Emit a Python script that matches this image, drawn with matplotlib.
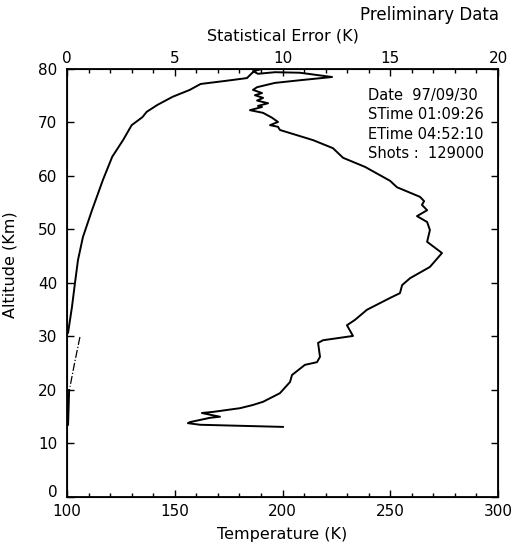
import numpy as np
import matplotlib.pyplot as plt

plt.rcParams['font.family'] = ['DejaVu Sans']

# temperature profile (K) vs altitude (km)
temp = [190.5, 186.3, 188.6, 196.5, 208.1, 223.0, 208.1, 196.5, 188.2, 186.3,
        190.5, 187.2, 191.0, 188.2, 193.3, 188.6, 190.5, 184.9, 188.6, 191.0,
        195.1, 197.9, 194.2, 197.9, 198.8, 214.2, 223.4, 228.1, 238.3, 249.9,
        253.1, 263.8, 265.7, 264.7, 267.1, 262.4, 267.1, 268.4, 267.1, 274.0,
        268.4, 259.2, 255.5, 254.5, 249.9, 239.2, 233.6, 229.9, 232.7, 218.8,
        216.5, 217.4, 216.0, 210.4, 204.4, 203.5, 198.8, 191.0, 186.3, 180.3,
        167.7, 162.6, 167.3, 171.0, 166.4, 157.1, 156.1, 161.7, 200.2]
temp_alt = [80.0, 79.6, 79.1, 79.4, 79.3, 78.5, 77.9, 77.4, 76.6, 76.1,
            75.5, 75.1, 74.6, 74.1, 73.6, 73.1, 72.9, 72.3, 72.0, 71.8,
            70.9, 70.1, 69.5, 69.2, 68.6, 66.7, 65.2, 63.4, 61.7, 59.1,
            57.9, 56.1, 55.3, 54.6, 53.6, 52.5, 51.4, 49.9, 47.7, 45.6,
            43.0, 40.9, 39.6, 38.1, 37.2, 35.0, 33.1, 32.1, 30.1, 29.3,
            28.8, 26.2, 25.2, 24.7, 22.8, 21.5, 19.4, 17.8, 17.2, 16.6,
            15.9, 15.7, 15.3, 15.0, 14.8, 14.0, 13.8, 13.5, 13.1]

# statistical error (K) vs altitude (km)
err = [8.8, 8.6, 8.35, 7.4, 6.2, 5.7, 4.9, 4.2, 3.7, 3.5, 3.0, 2.6, 2.1,
       1.67, 1.16, 0.74, 0.51, 0.37, 0.23, 0.05]
err_alt = [79.8, 79.3, 78.3, 77.8, 77.2, 76.1, 74.8, 73.3, 72.0, 71.0, 69.5,
           66.7, 63.6, 59.3, 53.6, 48.6, 44.3, 40.0, 35.5, 30.7]
err_low = [0.6, 0.35, 0.14]
err_low_alt = [29.9, 25.0, 20.6]
err_base = [0.1, 0.05]
err_base_alt = [20.0, 13.5]

fig = plt.figure(figsize=(5.13, 5.48), dpi=100)
ax = fig.add_axes([0.1306, 0.0931, 0.8402, 0.781])
ax.plot(temp, temp_alt, color='black', lw=1.4)
ax.set_xlim(100, 300)
ax.set_ylim(0, 80)
ax.set_xticks(np.arange(100, 301, 50))
ax.set_xticks(np.arange(100, 301, 10), minor=True)
ax.set_yticks(np.arange(0, 81, 10))
ax.tick_params(direction='in', length=5, width=1, labelsize=11, right=True)
ax.tick_params(axis='y', pad=7)
ax.tick_params(axis='x', pad=5)
ax.tick_params(axis='x', which='minor', direction='in', length=3, width=1)
ax.set_xlabel('Temperature (K)', fontsize=11.5, labelpad=6)
ax.set_ylabel('Altitude (Km)', fontsize=11.5)
ax.yaxis.set_label_coords(-0.115, 0.542)
for s in ax.spines.values():
    s.set_linewidth(1.3)
# lift the "0" a little so it clears "100"
ax.yaxis.get_major_ticks()[0].label1.set_verticalalignment('baseline')

ax2 = ax.twiny()
ax2.plot(err, err_alt, color='black', lw=1.4)
ax2.plot(err_low, err_low_alt, color='black', lw=0.9, ls='-.')
ax2.plot(err_base, err_base_alt, color='black', lw=1.4)
ax2.set_xlim(0, 20)
ax2.set_xticks(np.arange(0, 21, 5))
ax2.set_xticks(np.arange(0, 21, 1), minor=True)
ax2.tick_params(direction='in', length=5, width=1, labelsize=11, pad=2)
ax2.tick_params(axis='x', which='minor', direction='in', length=3, width=1)
ax2.set_xlabel('Statistical Error (K)', fontsize=11.5, labelpad=8)

info = ['Date  97/09/30', 'STime 01:09:26', 'ETime 04:52:10', 'Shots :  129000']
for i, line in enumerate(info):
    ax.text(0.698, 0.939 - i * 0.0456, line, transform=ax.transAxes,
            fontsize=10.5, va='center', ha='left')

fig.text(0.973, 0.972, 'Preliminary Data', fontsize=12, ha='right', va='center')

fig.savefig('out.png', dpi=100)
